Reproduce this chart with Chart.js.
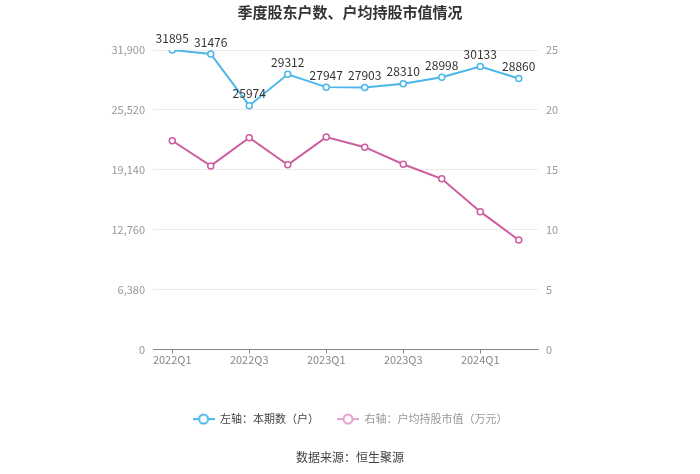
<!DOCTYPE html>
<html>
<head>
<meta charset="utf-8">
<script src="https://cdn.jsdelivr.net/npm/chart.js@4/dist/chart.umd.min.js"></script>
<style>
  html, body { margin: 0; padding: 0; background: #fff; }
  #wrap { width: 700px; height: 474px; }
</style>
</head>
<body>
<div id="wrap"><canvas id="holderChart"></canvas></div>
<script>
const quarters = ["2022Q1", "2022Q2", "2022Q3", "2022Q4", "2023Q1", "2023Q2", "2023Q3", "2023Q4", "2024Q1", "2024Q2"];
const holders = [31895, 31476, 25974, 29312, 27947, 27903, 28310, 28998, 30133, 28860];
const avgValue = [17.43, 15.33, 17.68, 15.42, 17.73, 16.89, 15.47, 14.25, 11.51, 9.14];
const leftTicks = [0, 6380, 12760, 19140, 25520, 31900];
const rightTicks = [0, 5, 10, 15, 20, 25];

const blue = "rgb(75,182,232)";
const pink = "rgb(207,92,160)";
const font = "'Noto Sans CJK SC', 'Noto Sans', sans-serif";

function legendIcon(color) {
    const c = document.createElement("canvas");
    c.width = 22; c.height = 12;
    const g = c.getContext("2d");
    g.strokeStyle = color;
    g.lineWidth = 2;
    g.beginPath(); g.moveTo(0, 6); g.lineTo(22, 6); g.stroke();
    g.fillStyle = "#fff";
    g.beginPath(); g.arc(11, 6, 4.5, 0, Math.PI * 2); g.fill(); g.stroke();
    return c;
}

// value labels above the blue line
const valueLabels = {
    id: "valueLabels",
    afterDatasetsDraw(chart) {
        const ctx = chart.ctx;
        const meta = chart.getDatasetMeta(0);
        ctx.save();
        ctx.font = "12px " + font;
        ctx.fillStyle = "#333";
        ctx.textAlign = "center";
        ctx.textBaseline = "bottom";
        meta.data.forEach((pt, i) => {
            ctx.fillText(String(holders[i]), pt.x, pt.y - 6);
        });
        ctx.restore();
    }
};

const ctx = document.getElementById("holderChart").getContext("2d");
new Chart(ctx, {
    type: "line",
    data: {
        labels: quarters,
        datasets: [{
            label: "左轴：本期数（户）",
            data: holders,
            yAxisID: "yLeft",
            borderColor: blue,
            backgroundColor: "#fff",
            borderWidth: 2,
            pointRadius: 3,
            pointBorderWidth: 1.5,
            pointBackgroundColor: "#fff",
            pointBorderColor: blue,
            tension: 0
        }, {
            label: "右轴：户均持股市值（万元）",
            data: avgValue,
            yAxisID: "yRight",
            borderColor: pink,
            backgroundColor: "#fff",
            borderWidth: 2,
            pointRadius: 3,
            pointBorderWidth: 1.5,
            pointBackgroundColor: "#fff",
            pointBorderColor: pink,
            tension: 0
        }]
    },
    options: {
        responsive: true,
        maintainAspectRatio: false,
        animation: false,
        layout: { padding: 0 },
        scales: {
            x: {
                offset: true,
                grid: { drawOnChartArea: false, tickLength: 4, color: "#888" },
                border: { display: true, color: "#888" },
                ticks: {
                    autoSkip: true,
                    maxTicksLimit: 5,
                    maxRotation: 0,
                    color: "#888",
                    font: { size: 11, family: font },
                    padding: 0
                },
                afterFit(scale) { scale.height = 46; }
            },
            yLeft: {
                position: "left",
                min: 0,
                max: 31900,
                afterBuildTicks(scale) { scale.ticks = leftTicks.map(v => ({ value: v })); },
                ticks: {
                    color: "#999",
                    font: { size: 11, family: font },
                    padding: 8,
                    callback: v => v.toLocaleString("en-US")
                },
                grid: { color: "#ebebeb", drawTicks: false },
                border: { display: false },
                afterFit(scale) { scale.width = 153; }
            },
            yRight: {
                position: "right",
                min: 0,
                max: 25,
                afterBuildTicks(scale) { scale.ticks = rightTicks.map(v => ({ value: v })); },
                ticks: {
                    color: "#999",
                    font: { size: 11, family: font },
                    padding: 8
                },
                grid: { drawOnChartArea: false, drawTicks: false },
                border: { display: false },
                afterFit(scale) { scale.width = 162; }
            }
        },
        plugins: {
            title: {
                display: true,
                text: "季度股东户数、户均持股市值情况",
                color: "#333",
                font: { size: 15, weight: "bold", family: font },
                padding: { top: 3, bottom: 29 }
            },
            subtitle: {
                display: true,
                position: "bottom",
                text: "数据来源：恒生聚源",
                color: "#444",
                font: { size: 12, family: font },
                padding: { top: 16, bottom: 9 }
            },
            legend: {
                display: true,
                position: "bottom",
                labels: {
                    usePointStyle: true,
                    pointStyleWidth: 22,
                    boxHeight: 12,
                    padding: 18,
                    font: { size: 11, family: font },
                    generateLabels(chart) {
                        return chart.data.datasets.map((ds, i) => ({
                            text: ds.label,
                            pointStyle: legendIcon(i === 0 ? blue : "rgb(230,160,205)"),
                            fontColor: i === 0 ? "#444" : "#999",
                            strokeStyle: ds.borderColor,
                            fillStyle: "#fff",
                            lineWidth: 0,
                            hidden: false,
                            datasetIndex: i
                        }));
                    }
                }
            },
            tooltip: { enabled: false }
        }
    },
    plugins: [valueLabels]
});
</script>
</body>
</html>
